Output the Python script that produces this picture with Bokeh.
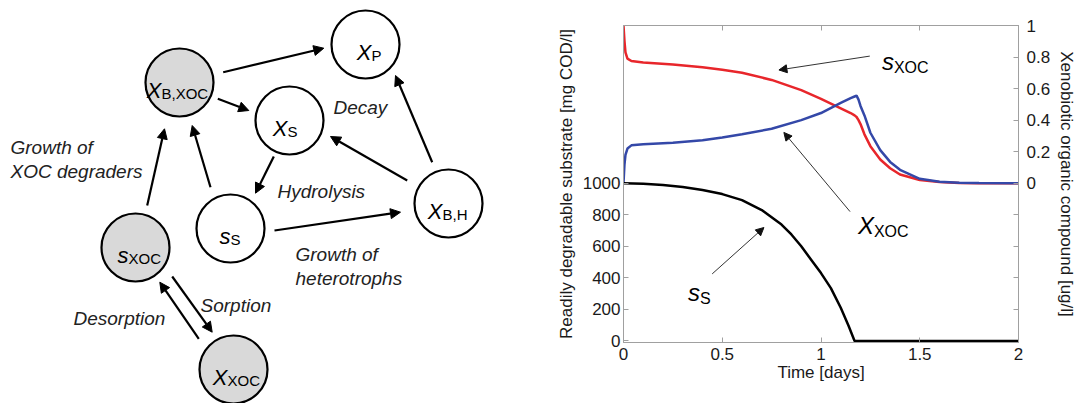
from bokeh.plotting import figure
from bokeh.models import Range1d, LinearAxis, FixedTicker, CustomJSTickFormatter, Arrow, NormalHead
from bokeh.layouts import row
from bokeh.embed import file_html
from bokeh.resources import INLINE
from bokeh.core.properties import value

FONT = "Liberation Sans"

# ---------------- data: simulation curves ----------------
time_ss = [0, 0.1, 0.2, 0.3, 0.4, 0.5, 0.6, 0.7, 0.8, 0.85, 0.9, 0.95, 1.0, 1.05, 1.1, 1.14, 1.17, 1.5, 2.0]
ss_values = [1000, 997, 989, 976, 957, 931, 893, 830, 738, 675, 600, 515, 430, 335, 210, 95, 0, 0, 0]

time_xoc = [0, 0.005, 0.01, 0.02, 0.04, 0.1, 0.25, 0.4, 0.5, 0.6, 0.75, 0.9, 1.0, 1.1,
            1.15, 1.17, 1.18, 1.19, 1.2, 1.22, 1.25, 1.3, 1.35, 1.4, 1.5, 1.6, 1.7, 1.8, 2.0]
s_xoc_values = [1.0, 0.9, 0.83, 0.79, 0.775, 0.765, 0.752, 0.735, 0.72, 0.70, 0.655, 0.59, 0.535, 0.475,
                0.445, 0.43, 0.42, 0.40, 0.375, 0.31, 0.235, 0.15, 0.095, 0.055, 0.02, 0.007, 0.002, 0.0, 0.0]
x_xoc_values = [0.0, 0.12, 0.18, 0.22, 0.24, 0.247, 0.256, 0.272, 0.29, 0.31, 0.345, 0.40, 0.445, 0.51,
                0.54, 0.55, 0.555, 0.53, 0.49, 0.43, 0.32, 0.21, 0.135, 0.085, 0.028, 0.009, 0.003, 0.001, 0.0]

x_ticks = [0, 0.5, 1, 1.5, 2]
left_ticks = [0, 200, 400, 600, 800, 1000]
right_ticks = [-0.8, -0.6, -0.4, -0.2, 0, 0.2, 0.4, 0.6, 0.8, 1]

# chart annotations (days, left-axis units)
chart_main = ["s", "X", "s"]
chart_sub = ["XOC", "XOC", "S"]
chart_anchor_x = [1.369, 1.268, 0.3875]
chart_anchor_y = [1770, 729, 309]
chart_arrow_x0 = [1.247, 1.147, 0.449]
chart_arrow_y0 = [1806, 820, 425]
chart_arrow_x1 = [0.787, 0.812, 0.711]
chart_arrow_y1 = [1718, 1322, 719]

# ---------------- data: process diagram (positions in diagram units) ----------------
node_x = [179, 365, 289, 448, 230, 135, 233]
node_y = [82, 44, 120, 203, 228, 247, 369]
node_fill = ["#d9d9d9", "white", "white", "white", "white", "#d9d9d9", "#d9d9d9"]
node_main = ["X", "X", "X", "X", "s", "s", "X"]
node_sub = ["B,XOC", "P", "S", "B,H", "S", "XOC", "XOC"]
node_split = [-18, 6, -2, -6, 0, -7, -6]

edge_x0 = [222.7, 217.3, 146.7, 210.0, 273.3, 274.0, 406.7, 431.7, 171.7, 198.3]
edge_y0 = [71.7, 98.3, 205.0, 186.7, 156.0, 230.0, 180.0, 161.7, 276.0, 338.3]
edge_x1 = [323.3, 248.3, 164.0, 191.7, 255.0, 400.0, 330.0, 395.0, 211.7, 159.3]
edge_y1 = [47.7, 110.0, 128.3, 125.0, 192.7, 211.7, 136.0, 75.0, 331.7, 281.7]

proc_text = ["Decay", "Growth of", "XOC degraders", "Hydrolysis", "Growth of",
             "heterotrophs", "Sorption", "Desorption"]
proc_x = [333, 10, 10, 277, 295, 295, 200, 73]
proc_y = [107, 146.7, 170.7, 190.7, 254, 278.3, 305, 317.7]


def no_align(p):
    if "frame_align" in p.properties():
        p.frame_align = False


# ---------------- diagram figure ----------------
p1 = figure(width=548, height=403, x_range=Range1d(0, 548), y_range=Range1d(403, 0),
            x_axis_location=None, y_axis_location=None, toolbar_location=None,
            output_backend="svg", min_border=0, title=None)
no_align(p1)
p1.grid.visible = False
p1.outline_line_color = None

for x0, y0, x1, y1 in zip(edge_x0, edge_y0, edge_x1, edge_y1):
    p1.add_layout(Arrow(x_start=x0, y_start=y0, x_end=x1, y_end=y1, line_width=2.2, line_color="black",
                        end=NormalHead(size=10, fill_color="black", line_color="black", line_width=1)))

p1.circle(x=node_x, y=node_y, radius=34, fill_color=node_fill, line_color="black", line_width=2.2)

anchor_x = [x + s for x, s in zip(node_x, node_split)]
p1.text(x=anchor_x, y=node_y, y_offset=8, text=node_main, text_font=value(FONT),
        text_font_size="22px", text_font_style="italic", text_align="right",
        text_baseline="alphabetic", text_color="black")
p1.text(x=anchor_x, y=node_y, y_offset=11, text=node_sub, text_font=value(FONT),
        text_font_size="15px", text_align="left", text_baseline="alphabetic", text_color="black")
p1.text(x=proc_x, y=proc_y, text=proc_text, text_font=value(FONT), text_font_size="19px",
        text_font_style="italic", text_align="left", text_baseline="alphabetic", text_color="#222222")

# ---------------- chart figure ----------------
AX = "#a0a0a0"
p2 = figure(width=531, height=403, x_range=Range1d(0, 2), y_range=Range1d(-10, 2000),
            toolbar_location=None, output_backend="svg", title=None,
            min_border_left=75, min_border_right=57, min_border_top=25, min_border_bottom=61)
no_align(p2)
p2.extra_y_ranges = {"xoc": Range1d(-1.01, 1)}
p2.grid.visible = False
p2.outline_line_color = AX
p2.outline_line_width = 1


def style(ax, size="17px"):
    ax.axis_line_color = AX
    ax.major_tick_line_color = AX
    ax.major_tick_in = 5
    ax.major_tick_out = 0
    ax.minor_tick_line_color = None
    ax.major_label_text_font = FONT
    ax.major_label_text_font_size = size
    ax.major_label_text_color = "#1a1a1a"
    ax.axis_label_text_font = FONT
    ax.axis_label_text_font_size = "17px"
    ax.axis_label_text_font_style = "normal"
    ax.axis_label_text_color = "#1a1a1a"


xa = p2.xaxis[0]
style(xa)
xa.ticker = FixedTicker(ticks=x_ticks)
xa.formatter = CustomJSTickFormatter(code="return String(Math.round(tick*10)/10);")
xa.axis_label = "Time [days]"
xa.major_label_standoff = 5
xa.axis_label_standoff = 0

ya = p2.yaxis[0]
style(ya)
ya.ticker = FixedTicker(ticks=left_ticks)
ya.axis_label = "Readily degradable substrate [mg COD/l]"
ya.major_label_standoff = 3
ya.axis_label_standoff = 4

ra = LinearAxis(y_range_name="xoc", ticker=FixedTicker(ticks=right_ticks),
                formatter=CustomJSTickFormatter(code="return tick < -0.001 ? '' : String(Math.round(tick*10)/10);"),
                axis_label="Xenobiotic organic compound [ug/l]")
style(ra)
ra.major_label_standoff = 8
ra.axis_label_standoff = 4
p2.add_layout(ra, "right")

ta = LinearAxis(ticker=FixedTicker(ticks=[0.5, 1, 1.5]),
                formatter=CustomJSTickFormatter(code="return '';"))
style(ta, size="0px")
ta.major_label_standoff = 0
p2.add_layout(ta, "above")

p2.line(time_xoc, s_xoc_values, color="#e8262b", line_width=2.5, y_range_name="xoc")
p2.line(time_xoc, x_xoc_values, color="#3448a8", line_width=2.5, y_range_name="xoc")
p2.line(time_ss, ss_values, color="black", line_width=2.5)

for x0, y0, x1, y1 in zip(chart_arrow_x0, chart_arrow_y0, chart_arrow_x1, chart_arrow_y1):
    p2.add_layout(Arrow(x_start=x0, y_start=y0, x_end=x1, y_end=y1, line_width=1, line_color="#333333",
                        end=NormalHead(size=8, fill_color="#111111", line_color="#111111", line_width=1)))

p2.text(x=chart_anchor_x, y=chart_anchor_y, text=chart_main, text_font=value(FONT),
        text_font_size="24px", text_font_style="italic", text_align="right",
        text_baseline="alphabetic", text_color="black")
p2.text(x=chart_anchor_x, y=chart_anchor_y, text=chart_sub, text_font=value(FONT), y_offset=6,
        text_font_size="16px", text_align="left", text_baseline="alphabetic", text_color="black")

layout = row(p1, p2)
open("out.html", "w").write(file_html(layout, INLINE))
